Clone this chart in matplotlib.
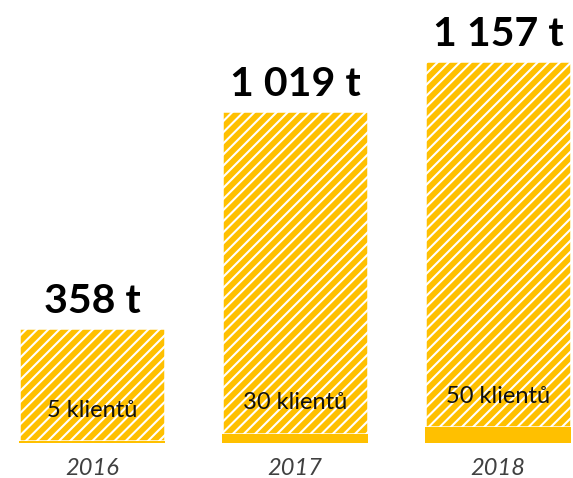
import matplotlib.pyplot as plt

years = ['2016', '2017', '2018']
tonnes = [358, 1019, 1157]
clients = [5, 30, 50]
ton_labels = ['358 t', '1 019 t', '1 157 t']
client_labels = ['5 klientů', '30 klientů', '50 klientů']

plt.rcParams['font.family'] = ['Lato', 'DejaVu Sans']
plt.rcParams['hatch.linewidth'] = 1.5
plt.rcParams['hatch.color'] = 'white'

yellow = '#FFC000'
fig = plt.figure(figsize=(5.73, 4.78), dpi=100)
ax = fig.add_axes([0, 0, 1, 1])

x = range(len(years))
# hatched tonnes part first, solid client part on top so the thin 2016 bar stays visible
ax.bar(x, tonnes, width=0.72, bottom=clients, color=yellow, edgecolor='white',
       linewidth=1.8, hatch='///', zorder=2)
ax.bar(x, clients, width=0.72, color=yellow, linewidth=0, zorder=3)

for i in x:
    top = tonnes[i] + clients[i]
    ax.annotate(ton_labels[i], (i, top), xytext=(0, 6), textcoords='offset points',
                ha='center', va='bottom', fontsize=29.5, fontweight='bold')
    ax.annotate(client_labels[i], (i, clients[i]), xytext=(0, 22), textcoords='offset points',
                ha='center', va='center', fontsize=17, color='#111111')
    ax.annotate(years[i], (i, 0), xytext=(0, -18), textcoords='offset points',
                ha='center', va='center', fontsize=17, style='italic', color='#404040')

ax.set_xlim(-0.453, 2.369)
ax.set_ylim(-110.6, 1400)
ax.axis('off')

fig.savefig('out.png', dpi=100)
